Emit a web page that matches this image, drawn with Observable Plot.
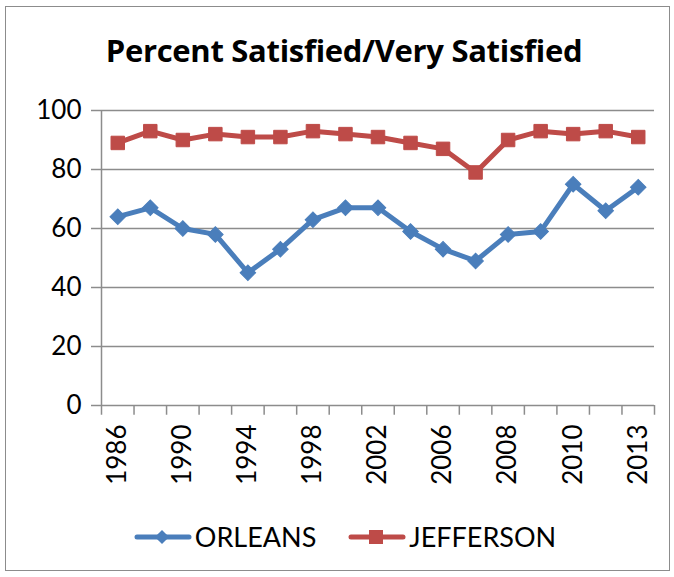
<!DOCTYPE html>
<html>
<head>
<meta charset="utf-8">
<script src="https://cdn.jsdelivr.net/npm/d3@7"></script>
<script src="https://cdn.jsdelivr.net/npm/@observablehq/plot@0.6"></script>
<style>
  html, body { margin: 0; padding: 0; background: #fff; }
  #wrap { position: relative; width: 674px; height: 577px; overflow: hidden; font-family: Lato, "Open Sans", sans-serif; }
  #frame { position: absolute; left: 5px; top: 6px; width: 665px; height: 565px; border: 1.5px solid #8c8c8c; box-sizing: border-box; }
  #title { position: absolute; left: 0; width: 688px; top: 35px; line-height: 31px; text-align: center; font-family: "Open Sans", Lato, sans-serif; font-weight: 700; font-size: 31px; color: #000; letter-spacing: -0.3px; }
  #chart { position: absolute; left: 0; top: 90px; }
  #legend { position: absolute; left: 0; top: 520px; width: 690px; display: flex; justify-content: center; align-items: center; font-size: 27px; color: #000; }
  .item { display: flex; align-items: center; }
  .item svg { margin-right: 3px; }
</style>
</head>
<body>
<div id="wrap">
  <div id="frame"></div>
  <div id="title">Percent Satisfied/Very Satisfied</div>
  <div id="chart"></div>
  <div id="legend"></div>
</div>
<script>
const years = ["1986","1988","1990","1992","1994","1996","1998","2000","2002","2004","2006","2007","2008","2009","2010","2011","2013"];
const orleans = [64, 67, 60, 58, 45, 53, 63, 67, 67, 59, 53, 49, 58, 59, 75, 66, 74];
const jefferson = [89, 93, 90, 92, 91, 91, 93, 92, 91, 89, 87, 79, 90, 93, 92, 93, 91];
const seriesNames = ["ORLEANS", "JEFFERSON"];
const seriesColors = ["#4a7ebb", "#be4b48"];
const yTicks = [0, 20, 40, 60, 80, 100];

const rows = [];
years.forEach((yr, i) => {
  rows.push({i, year: yr, series: "ORLEANS", v: orleans[i]});
  rows.push({i, year: yr, series: "JEFFERSON", v: jefferson[i]});
});
const labelIdx = years.map((_, i) => i).filter(i => i % 2 === 0);
const bounds = d3.range(years.length + 1).map(i => i - 0.5);
const grid = "#8c8c8c";

const chart = Plot.plot({
  width: 674,
  height: 400,
  marginTop: 20,
  marginBottom: 85,
  marginLeft: 101,
  marginRight: 20,
  style: {fontFamily: "Lato, 'Open Sans', sans-serif", fontSize: "26px", color: "#000", background: "transparent", overflow: "visible"},
  x: {domain: [-0.5, years.length - 0.5]},
  y: {domain: [0, 100]},
  color: {domain: seriesNames, range: seriesColors},
  marks: [
    Plot.ruleY(yTicks.filter(t => t > 0), {stroke: grid, strokeWidth: 1.5}),
    Plot.ruleY([0], {stroke: grid, strokeWidth: 1.5}),
    Plot.ruleX([-0.5], {y1: 0, y2: 100, stroke: grid, strokeWidth: 1.5}),
    Plot.ruleX(bounds, {y1: 0, y2: -3.3, stroke: grid, strokeWidth: 1.5}),
    Plot.axisY({ticks: yTicks, tickSize: 10, tickPadding: 10, stroke: grid, strokeWidth: 1.5, fontSize: 26, label: null, tickFormat: d => d}),
    Plot.axisX({ticks: labelIdx, tickFormat: i => years[i], tickRotate: -90, tickSize: 0, tickPadding: 19, fontSize: 26, label: null}),
    Plot.line(rows, {x: "i", y: "v", z: "series", stroke: "series", strokeWidth: 5, strokeLinejoin: "round", strokeLinecap: "round"}),
    Plot.dot(rows.filter(d => d.series === "ORLEANS"), {x: "i", y: "v", symbol: "square", r: 6.2, rotate: 45, fill: seriesColors[0], stroke: seriesColors[0], strokeWidth: 1}),
    Plot.dot(rows.filter(d => d.series === "JEFFERSON"), {x: "i", y: "v", symbol: "square", r: 7.6, fill: seriesColors[1], stroke: seriesColors[1], strokeWidth: 1})
  ]
});
document.getElementById("chart").appendChild(chart);

const legend = document.getElementById("legend");
seriesNames.forEach((name, k) => {
  const item = document.createElement("div");
  item.className = "item";
  item.style.marginRight = k === 0 ? "32px" : "0px";
  const c = seriesColors[k];
  const marker = k === 0
    ? `<rect x="23" y="7" width="10" height="10" fill="${c}" transform="rotate(45 28 12)"/>`
    : `<rect x="21" y="5" width="14" height="14" fill="${c}"/>`;
  item.innerHTML = `<svg width="58" height="24"><line x1="3" y1="12" x2="55" y2="12" stroke="${c}" stroke-width="5" stroke-linecap="round"/>${marker}</svg><span>${name}</span>`;
  legend.appendChild(item);
});
</script>
</body>
</html>
